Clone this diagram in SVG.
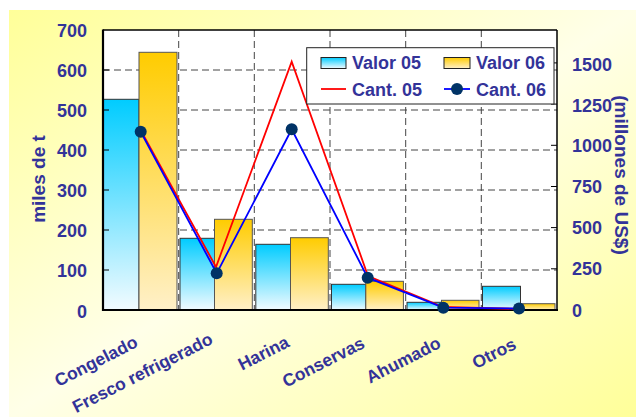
<svg xmlns="http://www.w3.org/2000/svg" width="636" height="417" viewBox="0 0 636 417">
<defs>
<linearGradient id="bg" x1="0" y1="0" x2="1" y2="1">
<stop offset="0" stop-color="#FFFF99"/>
<stop offset="0.5" stop-color="#FFFFE8"/>
<stop offset="1" stop-color="#FFFF99"/>
</linearGradient>
<linearGradient id="gb" x1="0" y1="0" x2="0" y2="1">
<stop offset="0" stop-color="#00CCFF"/>
<stop offset="1" stop-color="#F2FBFF"/>
</linearGradient>
<linearGradient id="go" x1="0" y1="0" x2="0" y2="1">
<stop offset="0" stop-color="#FFCC00"/>
<stop offset="1" stop-color="#FFF0C8"/>
</linearGradient>
<style>
text{font-family:"Liberation Sans",Arial,sans-serif;font-weight:bold;fill:#333399;}
.tk{font-size:18px;}
.ttl{font-size:19px;}
.cat{font-size:17.5px;text-anchor:end;}
.grid{stroke:#444;stroke-width:1;stroke-dasharray:7,4;fill:none;}
.bb{fill:url(#gb);stroke:#333;stroke-width:1;}
.bo{fill:url(#go);stroke:#555;stroke-width:1;}
.tick{stroke:#000;stroke-width:1;}
.dot{fill:#003366;}
</style>
</defs>
<rect x="0" y="0" width="636" height="417" fill="#FFFFFF"/>
<rect x="9" y="10" width="627" height="407" fill="url(#bg)"/>
<g id="plot-area">
<rect x="103" y="30" width="454" height="280" fill="#FFFFFF"/>
</g>
<g id="gridlines">
<line class="grid" x1="103" y1="70" x2="557" y2="70"/>
<line class="grid" x1="103" y1="110" x2="557" y2="110"/>
<line class="grid" x1="103" y1="150" x2="557" y2="150"/>
<line class="grid" x1="103" y1="190" x2="557" y2="190"/>
<line class="grid" x1="103" y1="230" x2="557" y2="230"/>
<line class="grid" x1="103" y1="270" x2="557" y2="270"/>
<line class="grid" x1="178.7" y1="30" x2="178.7" y2="310"/>
<line class="grid" x1="254.3" y1="30" x2="254.3" y2="310"/>
<line class="grid" x1="330" y1="30" x2="330" y2="310"/>
<line class="grid" x1="405.7" y1="30" x2="405.7" y2="310"/>
<line class="grid" x1="481.3" y1="30" x2="481.3" y2="310"/>
</g>
<g id="bars">
<rect class="bb" x="103" y="99.3" width="36" height="210.7"/>
<rect class="bo" x="139" y="52.3" width="38" height="257.7"/>
<rect class="bb" x="180" y="238.3" width="34.5" height="71.7"/>
<rect class="bo" x="214.5" y="219.3" width="37.8" height="90.7"/>
<rect class="bb" x="255.8" y="244.3" width="34.7" height="65.7"/>
<rect class="bo" x="290.5" y="237.7" width="37.8" height="72.3"/>
<rect class="bb" x="331.5" y="284.3" width="34.3" height="25.7"/>
<rect class="bo" x="365.8" y="281.3" width="37.6" height="28.7"/>
<rect class="bb" x="407" y="302.3" width="34.5" height="7.7"/>
<rect class="bo" x="441.5" y="300.3" width="37.5" height="9.7"/>
<rect class="bb" x="482.5" y="286.3" width="38" height="23.7"/>
<rect class="bo" x="520.5" y="303.7" width="34.5" height="6.3"/>
</g>
<g id="axes">
<line x1="103" y1="30" x2="557" y2="30" stroke="#000" stroke-width="1.5"/>
<line x1="557" y1="30" x2="557" y2="310" stroke="#000" stroke-width="1.5"/>
<line x1="103" y1="29.5" x2="103" y2="311" stroke="#000" stroke-width="2.2"/>
<line x1="102" y1="310" x2="558" y2="310" stroke="#000" stroke-width="2.2"/>
<line class="tick" x1="103" y1="70" x2="109" y2="70"/>
<line class="tick" x1="103" y1="110" x2="109" y2="110"/>
<line class="tick" x1="103" y1="150" x2="109" y2="150"/>
<line class="tick" x1="103" y1="190" x2="109" y2="190"/>
<line class="tick" x1="103" y1="230" x2="109" y2="230"/>
<line class="tick" x1="103" y1="270" x2="109" y2="270"/>
<line class="tick" x1="551" y1="62.9" x2="557" y2="62.9"/>
<line class="tick" x1="551" y1="104.1" x2="557" y2="104.1"/>
<line class="tick" x1="551" y1="145.3" x2="557" y2="145.3"/>
<line class="tick" x1="551" y1="186.5" x2="557" y2="186.5"/>
<line class="tick" x1="551" y1="227.6" x2="557" y2="227.6"/>
<line class="tick" x1="551" y1="268.8" x2="557" y2="268.8"/>
</g>
<g id="connectors">
<polyline points="140.8,130.5 216,267 291.7,61.7 368,276 443.3,307 519,309" fill="none" stroke="#FF0000" stroke-width="1.8"/>
<polyline points="140.7,131.7 216.7,273.3 291.7,129.3 367.7,277.7 443.3,307.7 519,308.5" fill="none" stroke="#0000FF" stroke-width="1.8"/>
</g>
<g id="cant06-markers">
<circle class="dot" cx="140.7" cy="131.7" r="6"/>
<circle class="dot" cx="216.7" cy="273.3" r="6"/>
<circle class="dot" cx="291.7" cy="129.3" r="6"/>
<circle class="dot" cx="367.7" cy="277.7" r="6"/>
<circle class="dot" cx="443.3" cy="307.7" r="6"/>
<circle class="dot" cx="519" cy="308.5" r="6"/>
</g>
<g id="legend">
<rect x="306.7" y="47.7" width="247.3" height="56.3" fill="#FFFFFF" stroke="#222" stroke-width="1"/>
<rect x="321" y="57.5" width="25" height="11" fill="url(#gb)" stroke="#222" stroke-width="1"/>
<text class="tk" x="352" y="69">Valor 05</text>
<rect x="444" y="57.5" width="26" height="11" fill="url(#go)" stroke="#222" stroke-width="1"/>
<text class="tk" x="476" y="69">Valor 06</text>
<line x1="321" y1="89" x2="346" y2="89" stroke="#FF0000" stroke-width="1.8"/>
<text class="tk" x="352" y="95.5">Cant. 05</text>
<line x1="444" y1="89" x2="470" y2="89" stroke="#0000FF" stroke-width="1.8"/>
<circle class="dot" cx="457" cy="89" r="6"/>
<text class="tk" x="476" y="95.5">Cant. 06</text>
</g>
<g id="left-axis-labels" text-anchor="end">
<text class="tk" x="87" y="37">700</text>
<text class="tk" x="87" y="77">600</text>
<text class="tk" x="87" y="117">500</text>
<text class="tk" x="87" y="157">400</text>
<text class="tk" x="87" y="197">300</text>
<text class="tk" x="87" y="237">200</text>
<text class="tk" x="87" y="277">100</text>
<text class="tk" x="87" y="318">0</text>
</g>
<g id="right-axis-labels">
<text class="tk" x="572" y="70.5">1500</text>
<text class="tk" x="572" y="111.5">1250</text>
<text class="tk" x="572" y="152">1000</text>
<text class="tk" x="572" y="193">750</text>
<text class="tk" x="572" y="234">500</text>
<text class="tk" x="572" y="275">250</text>
<text class="tk" x="572" y="316.5">0</text>
</g>
<g id="axis-titles">
<text class="ttl" text-anchor="middle" transform="translate(45,179) rotate(-90)">miles de t</text>
<text class="ttl" text-anchor="middle" transform="translate(615,175) rotate(90)">(millones de US$)</text>
</g>
<g id="category-labels">
<text class="cat" transform="translate(139,346) rotate(-27)">Congelado</text>
<text class="cat" transform="translate(214,343) rotate(-27)">Fresco refrigerado</text>
<text class="cat" transform="translate(290.5,346) rotate(-27)">Harina</text>
<text class="cat" transform="translate(366,347) rotate(-27)">Conservas</text>
<text class="cat" transform="translate(442,347) rotate(-27)">Ahumado</text>
<text class="cat" transform="translate(517.5,348) rotate(-27)">Otros</text>
</g>
</svg>
